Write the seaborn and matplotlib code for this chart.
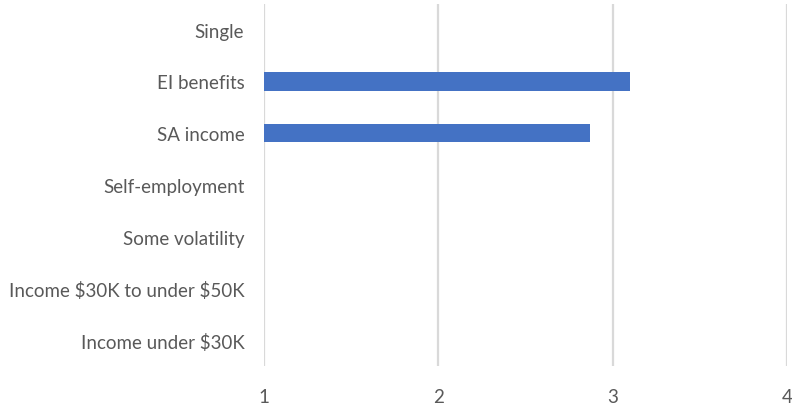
import matplotlib
matplotlib.use("Agg")
import matplotlib.pyplot as plt
import seaborn as sns
import pandas as pd

categories = [
    "Single",
    "EI benefits",
    "SA income",
    "Self-employment",
    "Some volatility",
    r"Income \$30K to under \$50K",
    r"Income under \$30K",
]
values = [1.0, 3.1, 2.87, 1.0, 1.0, 1.0, 1.0]
x_ticks = [1, 2, 3, 4]

df = pd.DataFrame({"category": categories, "value": values})

sns.set_theme(style="white")
plt.rcParams["font.family"] = ["Lato", "DejaVu Sans"]

fig = plt.figure(figsize=(7.92, 4.06), dpi=100)
ax = fig.add_axes([0.333, 0.096, 0.661, 0.892])

sns.barplot(data=df, x="value", y="category", orient="h", color="#4472C4",
            saturation=1, width=0.35, linewidth=0, ax=ax)

ax.set_xlim(1, 4)
ax.set_xticks(x_ticks)
ax.set_xticklabels([str(t) for t in x_ticks])
ax.xaxis.grid(True, color="#D9D9D9", linewidth=1.6)
ax.set_axisbelow(True)
for s in ax.spines.values():
    s.set_visible(False)
ax.set_xlabel("")
ax.set_ylabel("")
ax.tick_params(axis="both", length=0, labelsize=13.5, colors="#595959")
ax.tick_params(axis="x", pad=15.5)
ax.tick_params(axis="y", pad=14)

fig.savefig("out.png", dpi=100, facecolor="white")
